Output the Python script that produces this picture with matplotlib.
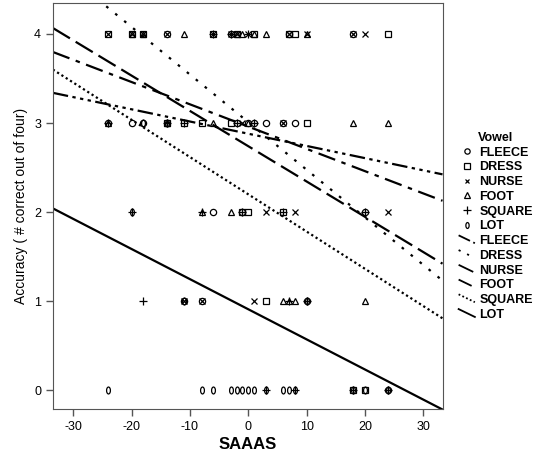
import numpy as np
import matplotlib.pyplot as plt
from matplotlib.path import Path
from matplotlib.lines import Line2D
from matplotlib.legend_handler import HandlerBase

plt.rcParams['font.family'] = ['Liberation Sans', 'DejaVu Sans']
plt.rcParams['axes.unicode_minus'] = False

# SAAAS score of each participant
saaas = [-24, -20, -18, -14, -11, -8, -6, -3, -2, -1, 0, 1, 3, 6, 7, 8, 10, 18, 20, 24]

# number correct out of four, per vowel
fleece = [3, 3, 3, 4, 1, 1, 2, 4, 3, 2, 3, 3, 3, 3, 4, 3, 1, 4, 2, 0]
dress  = [4, 4, 4, 3, 3, 3, 4, 3, 4, 2, 2, 4, 1, 2, 4, 4, 3, 0, 0, 4]
nurse  = [4, 4, 4, 4, 1, 1, 4, 4, 4, 3, 4, 1, 2, 3, 4, 2, 4, 4, 4, 2]
foot   = [3, 4, 4, 3, 4, 2, 3, 2, 4, 4, 3, 4, 4, 1, 1, 1, 4, 3, 1, 3]
square = [3, 2, 1, 3, 3, 2, 4, 4, 3, 2, 4, 3, 0, 2, 1, 0, 1, 0, 2, 0]
lot    = [0, 2, 3, 3, 1, 0, 0, 0, 0, 0, 0, 0, 0, 0, 0, 0, 1, 0, 0, 0]

vowels = ['FLEECE', 'DRESS', 'NURSE', 'FOOT', 'SQUARE', 'LOT']
scores = [fleece, dress, nurse, foot, square, lot]

# fit lines (intercept, slope)
intercepts = [2.88, 3.01, 2.74, 2.96, 2.20, 0.91]
slopes = [-0.0137, -0.0534, -0.0396, -0.0250, -0.0418, -0.0338]

uc = Path.unit_circle()
zero = Path(uc.vertices * np.array([0.55, 1.0]), uc.codes)
markers = ['o', 's', 'x', '^', '+', zero]
sizes = [4.5, 5, 4, 5, 6, 5]
styles = [(0, (7, 2, 1.5, 2, 1.5, 2, 1.5, 2)),
          (0, (1.2, 4)),
          (0, (9, 3)),
          (0, (8, 3, 2, 3)),
          (0, (1, 1.3)),
          '-']


class DiagLine(HandlerBase):
    # short slanted stroke like the SPSS legend
    def create_artists(self, legend, orig, xd, yd, w, h, fontsize, trans):
        ln = Line2D([-xd, -xd + w], [-yd + h * 1.0, -yd + h * 0.1])
        ln.update_from(orig)
        ln.set_clip_box(None)
        ln.set_clip_path(None)
        ln.set_clip_on(False)
        ln.set_linewidth(1.3)
        ln.set_transform(trans)
        return [ln]


fig = plt.figure(figsize=(5.39, 4.55), dpi=100)
ax = fig.add_axes([0.098, 0.101, 0.723, 0.893])

handles = []
for v, y, m, s in zip(vowels, scores, markers, sizes):
    h, = ax.plot(saaas, y, linestyle='none', marker=m, markersize=s,
                 markerfacecolor='none', markeredgecolor='black',
                 markeredgewidth=0.9, label=v)
    handles.append(h)

xs = np.array([-33.5, 33.3])
line_handles = []
for v, b0, b1, ls in zip(vowels, intercepts, slopes, styles):
    h, = ax.plot(xs, b0 + b1 * xs, color='black', linestyle=ls,
                 linewidth=1.6, label=v)
    line_handles.append(h)

ax.set_xlim(-33.5, 33.3)
ax.set_ylim(-0.21, 4.35)
ax.set_xticks([-30, -20, -10, 0, 10, 20, 30])
ax.set_yticks([0, 1, 2, 3, 4])
ax.tick_params(direction='out', length=5, width=1, color='#555555',
               labelsize=9)
for sp in ax.spines.values():
    sp.set_color('#555555')
ax.set_xlabel('SAAAS', fontsize=12, fontweight='bold', labelpad=3)
ax.set_ylabel('Accuracy ( # correct out of four)', fontsize=10)

hmap = {h: DiagLine() for h in line_handles}
leg = fig.legend(handles=handles + line_handles, title='Vowel',
                 loc='upper left', bbox_to_anchor=(0.83, 0.735),
                 frameon=False, handler_map=hmap, markerscale=0.85,
                 handlelength=1.3, handletextpad=0.35, labelspacing=0.22,
                 prop={'size': 9, 'weight': 'bold'}, title_fontsize=9)
leg.get_title().set_fontweight('bold')

fig.savefig('out.png', dpi=100)
